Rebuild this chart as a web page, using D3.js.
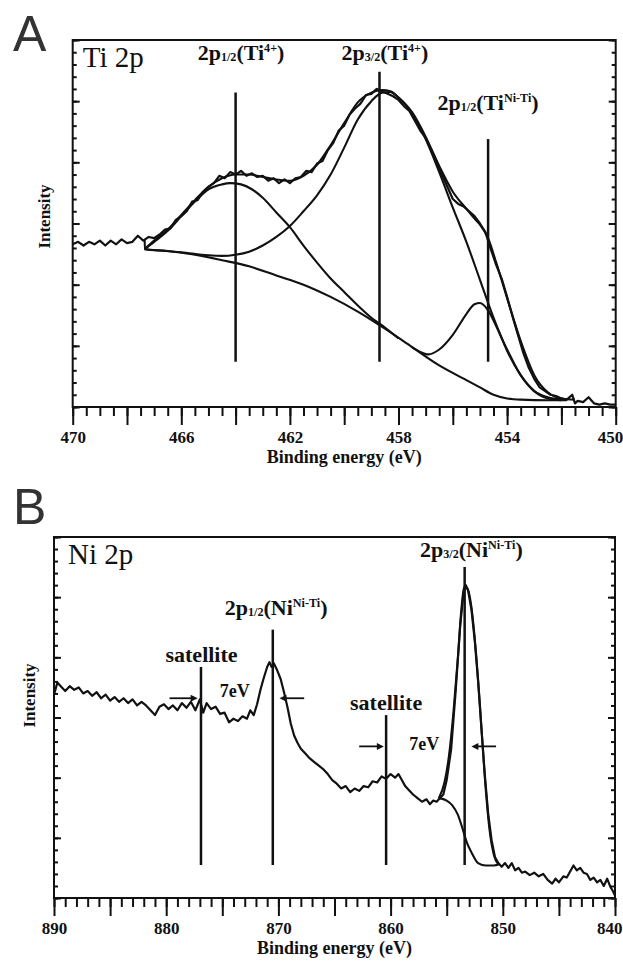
<!DOCTYPE html>
<html><head><meta charset="utf-8">
<script src="https://cdn.jsdelivr.net/npm/d3@7"></script>
<style>
html,body{margin:0;padding:0;background:#fff;}
svg{display:block;}
text{font-family:"Liberation Serif","Times New Roman",serif;fill:#111;}
</style></head><body>
<svg id="fig" width="623" height="961"></svg>
<script>
// ---------- Ti 2p (panel A): binding energy (eV), intensity (arb. units) ----------
const tiRaw = [
 [470.0,13.3],[469.8,13.5],[469.6,13.2],[469.4,13.5],[469.2,13.3],[469.0,13.6],[468.8,13.2],[468.6,13.6],
 [468.4,13.3],[468.2,13.7],[468.0,13.4],[467.8,13.5],[467.6,14.0],[467.4,13.6],[467.2,13.9],[467.0,13.8],
 [466.8,14.1],[466.6,14.5],[466.4,14.6],[466.2,15.3],[466.0,15.6],[465.8,16.0],[465.6,16.8],[465.4,16.9],
 [465.2,17.6],[465.0,18.0],[464.8,18.3],[464.6,18.9],[464.4,18.7],[464.2,19.2],[464.0,19.0],[463.8,19.3],
 [463.6,18.9],[463.4,19.1],[463.2,18.8],[463.0,18.9],[462.8,18.5],[462.6,18.7],[462.4,18.3],[462.2,18.6],
 [462.0,18.3],[461.8,18.7],[461.6,18.8],[461.4,19.3],[461.2,19.2],[461.0,19.9],[460.8,20.1],[460.6,21.0],
 [460.4,21.6],[460.2,22.6],[460.0,23.0],[459.8,23.9],[459.6,24.4],[459.4,24.8],[459.2,25.5],[459.0,25.6],
 [458.8,26.0],[458.6,25.8],[458.4,25.6],[458.2,25.4],[458.0,25.1],[457.8,24.6],[457.6,24.2],[457.4,23.4],
 [457.2,22.6],[457.0,22.0],[456.8,21.0],[456.6,20.1],[456.4,19.0],[456.2,18.0],[456.0,17.0],[455.8,16.6],
 [455.6,16.4],[455.4,16.0],[455.2,15.6],[455.0,15.0],[454.8,14.3],[454.6,12.9],[454.4,11.6],[454.2,10.5],
 [454.0,9.0],[453.8,7.4],[453.6,5.9],[453.4,4.4],[453.2,3.2],[453.0,2.3],[452.8,1.6],[452.6,1.3],
 [452.4,1.0],[452.2,0.9],[452.0,0.7],[451.8,0.6],[451.6,1.0],[451.5,0.3],[451.4,0.5],[451.2,0.4],
 [451.0,0.8],[450.8,0.3],[450.6,0.2],[450.4,0.3],[450.2,0.2],[450.0,0.2]
];
const tiEnvelope = [
 [467.35,12.9],[467.0,13.6],[466.5,14.5],[466.0,15.7],[465.5,16.9],[465.0,18.0],[464.5,18.7],[464.0,19.0],
 [463.5,19.0],[463.0,18.8],[462.5,18.6],[462.0,18.5],[461.5,18.9],[461.0,19.8],[460.5,21.4],[460.0,23.2],
 [459.5,24.9],[459.0,25.7],[458.6,25.9],[458.3,25.8],[458.0,25.3],[457.5,24.1],[457.0,22.1],[456.5,19.7],
 [456.0,17.6],[455.5,16.2],[455.2,15.4],[455.0,14.9],[454.7,13.8],[454.4,11.8],[454.0,8.9],[453.5,5.4],
 [453.0,2.6],[452.5,1.2],[452.0,0.7],[451.5,0.6]
];
const tiBackground = [
 [467.35,13.7],[467.34,12.9],[466.5,12.75],[465.5,12.45],[464.5,12.0],[463.5,11.5],[462.5,10.75],[461.5,10.0],
 [460.5,9.0],[459.5,7.8],[458.5,6.4],[457.5,4.9],[456.5,3.4],[455.5,2.2],[455.0,1.6],[454.5,1.0],
 [454.0,0.7],[453.5,0.6],[452.5,0.55],[451.8,0.55]
];
const tiPeak12 = [ // 2p1/2 (Ti4+) component on background
 [467.35,12.9],[467.0,13.5],[466.5,14.4],[466.0,15.6],[465.5,16.8],[465.0,17.8],[464.5,18.2],[464.2,18.3],
 [463.8,18.2],[463.4,17.8],[463.0,17.1],[462.5,15.9],[462.0,14.7],[461.5,13.2],[461.0,11.8],[460.5,10.5],
 [460.0,9.4],[459.5,8.3],[459.0,7.3],[458.5,6.5],[458.0,5.6]
];
const tiPeak32 = [ // 2p3/2 (Ti4+) component on background
 [467.35,12.9],[466.0,12.65],[465.0,12.4],[464.5,12.35],[464.0,12.45],[463.5,12.7],[463.0,13.2],[462.5,13.9],
 [462.0,14.8],[461.5,16.0],[461.0,17.3],[460.5,19.0],[460.0,21.2],[459.5,23.5],[459.0,25.0],[458.6,25.7],
 [458.3,25.75],[458.0,25.3],[457.5,24.0],[457.0,21.9],[456.5,19.2],[456.0,16.3],[455.5,13.5],[455.0,10.4],
 [454.5,7.3],[454.0,4.6],[453.5,2.6],[453.0,1.3],[452.5,0.8],[452.0,0.6]
];
const tiPeakMetal = [ // 2p (Ti in Ni-Ti) component on background
 [457.5,4.9],[457.2,4.5],[456.9,4.3],[456.5,4.7],[456.0,5.9],[455.5,7.6],[455.2,8.4],[455.0,8.5],
 [454.7,7.9],[454.4,6.6],[454.0,4.7],[453.5,2.6],[453.0,1.3],[452.5,0.7],[452.0,0.55]
];
const tiTickLabels = [470, 466, 462, 458, 454, 450];
// peak positions with the vertical extent of each marker line (intensity units)
const tiPeakLines = [
 {ev: 464.0, top: 25.7, bottom: 3.7},
 {ev: 458.7, top: 27.4, bottom: 3.7},
 {ev: 454.7, top: 21.9, bottom: 3.7}
];
const tiPeakNames = [
 {ev: 463.8, at: 28.4, parts: [["2p"],["1/2","sub"],["(Ti"],["4+","sup"],[")"]]},
 {ev: 458.5, at: 28.4, parts: [["2p"],["3/2","sub"],["(Ti"],["4+","sup"],[")"]]},
 {ev: 454.7, at: 24.3, parts: [["2p"],["1/2","sub"],["(Ti"],["Ni-Ti","sup"],[")"]]}
];

// ---------- Ni 2p (panel B) ----------
const niRaw = [
 [890.0,16.9],[889.7,17.9],[889.4,17.6],[889.0,17.2],[888.6,17.6],[888.2,17.3],[887.8,17.5],[887.4,17.0],
 [887.0,17.2],[886.6,16.8],[886.2,17.1],[885.8,16.6],[885.4,16.9],[885.0,16.4],[884.6,16.7],[884.2,16.3],
 [883.8,16.6],[883.4,16.2],[883.0,16.5],[882.6,16.0],[882.2,16.3],[881.8,16.0],[881.4,15.6],[881.0,15.2],
 [880.6,15.9],[880.2,16.1],[879.8,15.7],[879.4,16.0],[879.0,15.6],[878.6,16.2],[878.2,15.8],[877.8,16.3],
 [877.4,15.6],[877.0,16.5],[876.7,15.4],[876.4,16.2],[876.0,15.7],[875.6,15.9],[875.2,15.3],[874.8,15.4],
 [874.4,14.6],[874.0,14.9],[873.6,14.7],[873.2,15.1],[872.8,14.9],[872.5,15.6],[872.2,15.2],[871.9,16.1],
 [871.6,17.3],[871.3,18.3],[871.0,19.2],[870.8,19.6],[870.6,19.2],[870.4,19.5],[870.1,18.9],[869.8,18.2],
 [869.5,17.1],[869.2,15.9],[868.9,14.5],[868.6,13.5],[868.3,12.9],[868.0,12.4],[867.6,12.0],[867.2,11.6],
 [866.8,11.3],[866.4,11.0],[866.0,10.7],[865.6,10.3],[865.2,9.8],[864.8,9.5],[864.4,9.1],[864.0,9.3],
 [863.6,8.8],[863.2,9.1],[862.8,8.9],[862.4,9.3],[862.0,9.2],[861.6,9.7],[861.2,9.6],[860.8,10.1],
 [860.4,9.9],[860.0,10.3],[859.6,10.0],[859.3,10.3],[859.0,9.8],[858.7,9.3],[858.4,9.0],[858.0,8.6],
 [857.6,8.3],[857.2,8.0],[856.8,8.2],[856.5,7.8],[856.2,8.1],[855.9,8.0],[855.6,8.3],[855.3,8.6],
 [855.0,9.8],[854.6,12.4],[854.2,17.2],[853.8,22.6],[853.5,25.4],[853.3,26.0],[853.1,25.6],[852.8,24.0],
 [852.5,21.4],[852.2,18.0],[851.9,14.0],[851.6,10.2],[851.3,7.0],[851.0,4.8],[850.7,3.4],[850.4,2.9],
 [850.1,2.6],[849.8,2.9],[849.5,2.5],[849.2,2.9],[848.9,2.3],[848.6,2.5],[848.3,2.1],[848.0,2.2],
 [847.6,1.9],[847.2,2.1],[846.8,1.8],[846.4,2.0],[846.0,1.5],[845.6,1.2],[845.3,1.6],[845.0,1.3],
 [844.6,1.8],[844.3,1.7],[844.0,2.2],[843.7,2.7],[843.4,2.3],[843.1,2.5],[842.8,2.1],[842.5,2.0],
 [842.2,1.5],[841.9,1.7],[841.6,1.3],[841.3,1.5],[841.0,1.0],[840.7,1.6],[840.4,0.9],[840.2,0.6],[840.0,0.2]
];
const niFit = [
 [855.7,8.3],[855.2,9.6],[854.8,11.8],[854.4,15.4],[854.0,20.0],[853.7,23.9],[853.4,25.9],[853.1,25.6],
 [852.8,24.2],[852.4,20.5],[852.0,15.5],[851.6,10.0],[851.2,5.8],[850.8,3.6],[850.4,2.8]
];
const niBackground = [
 [855.7,8.3],[855.0,8.1],[854.5,7.7],[854.0,6.9],[853.6,5.8],[853.2,4.6],[852.8,3.8],[852.2,2.9],
 [851.5,2.7],[850.8,2.7],[850.3,2.8]
];
const niTickLabels = [890, 880, 870, 860, 850, 840];
const niPeakLines = [
 {ev: 876.9, top: 19.2, bottom: 2.74},
 {ev: 870.5, top: 22.3, bottom: 2.74},
 {ev: 860.4, top: 15.2, bottom: 2.74},
 {ev: 853.4, top: 27.5, bottom: 2.74}
];
const niPeakNames = [
 {ev: 852.8, at: 28.3, parts: [["2p"],["3/2","sub"],["(Ni"],["Ni-Ti","sup"],[")"]]},
 {ev: 870.2, at: 23.5, parts: [["2p"],["1/2","sub"],["(Ni"],["Ni-Ti","sup"],[")"]]},
 {ev: 876.85, at: 19.6, parts: [["satellite"]]},
 {ev: 860.4, at: 15.6, parts: [["satellite"]]}
];
const niSplitNotes = [
 {ev: 873.9, at: 16.7, text: "7eV"},
 {ev: 857.0, at: 12.3, text: "7eV"}
];
// satellite offset arrows: start and end energies at a given intensity
const niArrows = [
 {from: 879.7, to: 877.2, at: 16.6},
 {from: 867.7, to: 869.9, at: 16.6},
 {from: 862.8, to: 860.6, at: 12.6},
 {from: 850.6, to: 852.8, at: 12.6}
];

const svg = d3.select("#fig");
const ink = "#111";
const serif = '"Liberation Serif","Times New Roman",serif';

function richText(g, x, y, parts, size) {
  const t = g.append("text").attr("x", x).attr("y", y)
    .attr("text-anchor", "middle").attr("font-weight", "bold")
    .attr("font-size", size).style("font-family", serif);
  let shift = 0;
  parts.forEach(([s, kind]) => {
    const sp = t.append("tspan").text(s);
    let target = 0;
    if (kind === "sub") { sp.attr("font-size", size * 0.55); target = 1; }
    else if (kind === "sup") { sp.attr("font-size", size * 0.55); target = -8; }
    sp.attr("dy", target - shift);
    shift = target;
  });
  return t;
}

function drawPanel(o) {
  const g = svg.append("g");
  const x = d3.scaleLinear().domain(o.xDomain).range([o.left, o.right]);
  const y = d3.scaleLinear().domain([0, 30]).range([o.bottom, o.top]);

  // bottom axis: minor and major outward ticks, labels on selected ticks
  const minor = g.append("g").attr("transform", `translate(0,${o.bottom})`)
    .call(d3.axisBottom(x).tickValues(o.minorTicks).tickSize(9).tickFormat(""));
  const major = g.append("g").attr("transform", `translate(0,${o.bottom})`)
    .call(d3.axisBottom(x).tickValues(o.majorTicks).tickSize(18).tickPadding(6)
      .tickFormat(d => o.labels.some(l => Math.abs(l - d) < 1e-6) ? d : ""));
  // inward ticks on left and right frame edges
  const yMinor = d3.range(0, 31, 1), yMajor = d3.range(0, 31, 5);
  const l1 = g.append("g").attr("transform", `translate(${o.left},0)`)
    .call(d3.axisRight(y).tickValues(yMinor).tickSize(4).tickFormat(""));
  const l2 = g.append("g").attr("transform", `translate(${o.left},0)`)
    .call(d3.axisRight(y).tickValues(yMajor).tickSize(7).tickFormat(""));
  const r1 = g.append("g").attr("transform", `translate(${o.right},0)`)
    .call(d3.axisLeft(y).tickValues(yMinor).tickSize(4).tickFormat(""));
  const r2 = g.append("g").attr("transform", `translate(${o.right},0)`)
    .call(d3.axisLeft(y).tickValues(yMajor).tickSize(7).tickFormat(""));
  [minor, major, l1, l2, r1, r2].forEach(a => {
    a.select(".domain").remove();
    a.selectAll("line").attr("stroke", ink).attr("stroke-width", 2);
  });
  major.selectAll("text")
    .style("font-family", serif)
    .attr("font-size", 17).attr("font-weight", "bold").attr("fill", ink);
  // the last label sits flush with the right edge of the figure
  major.selectAll(".tick").filter(d => Math.abs(d - o.xDomain[1]) < 1e-6)
    .select("text").attr("text-anchor", "end").attr("x", 7);

  // frame
  g.append("rect").attr("x", o.left).attr("y", o.top)
    .attr("width", o.right - o.left).attr("height", o.bottom - o.top)
    .attr("fill", "none").attr("stroke", ink).attr("stroke-width", 2);

  // axis titles
  g.append("text").attr("x", (o.left + o.right) / 2).attr("y", o.bottom + 56)
    .attr("text-anchor", "middle").attr("font-weight", "bold").attr("font-size", 18)
    .style("font-family", serif).text("Binding energy (eV)");
  g.append("text").attr("transform", `translate(${o.yTitleX},${(o.top + o.bottom) / 2 + o.yTitleDy}) rotate(-90)`)
    .attr("text-anchor", "middle").attr("font-weight", "bold").attr("font-size", 17)
    .style("font-family", serif).text("Intensity");

  // panel letter and element tag
  g.append("text").attr("x", 13).attr("y", o.letterY)
    .style("font-family", '"Liberation Sans",Arial,sans-serif')
    .attr("font-size", 50).style("fill", "#333").text(o.letter);
  g.append("text").attr("x", o.left + o.tagDx).attr("y", o.top + 27)
    .style("font-family", serif).attr("font-size", 29).text(o.tag);

  // spectra
  const lin = d3.line().x(d => x(d[0])).y(d => y(d[1]));
  const smooth = d3.line().x(d => x(d[0])).y(d => y(d[1])).curve(d3.curveMonotoneX);
  o.smoothSeries.forEach(s => g.append("path").attr("d", smooth(s))
    .attr("fill", "none").attr("stroke", ink).attr("stroke-width", 2.1).attr("stroke-linejoin", "round"));
  g.append("path").attr("d", lin(o.raw))
    .attr("fill", "none").attr("stroke", ink).attr("stroke-width", 2.2).attr("stroke-linejoin", "round");

  // peak marker lines
  o.peakLines.forEach(p => g.append("line")
    .attr("x1", x(p.ev)).attr("x2", x(p.ev)).attr("y1", y(p.top)).attr("y2", y(p.bottom))
    .attr("stroke", ink).attr("stroke-width", 2.5));

  o.names.forEach(n => richText(g, x(n.ev), y(n.at), n.parts, 22));
  return {g, x, y};
}

drawPanel({
  letter: "A", letterY: 51, tag: "Ti 2p", tagDx: 10,
  xDomain: [470, 450], left: 72.7, right: 615.7, top: 40, bottom: 407,
  minorTicks: d3.range(450, 470.001, 0.5), majorTicks: d3.range(450, 470.001, 2),
  labels: tiTickLabels, yTitleX: 50, yTitleDy: -7,
  raw: tiRaw, smoothSeries: [tiBackground, tiPeak12, tiPeak32, tiPeakMetal, tiEnvelope],
  peakLines: tiPeakLines, names: tiPeakNames
});

const pb = drawPanel({
  letter: "B", letterY: 524, tag: "Ni 2p", tagDx: 14,
  xDomain: [890, 840], left: 54, right: 615, top: 537, bottom: 898,
  minorTicks: d3.range(840, 890.001, 1), majorTicks: d3.range(840, 890.001, 5),
  labels: niTickLabels, yTitleX: 35, yTitleDy: -22,
  raw: niRaw, smoothSeries: [niBackground, niFit],
  peakLines: niPeakLines, names: niPeakNames
});

niSplitNotes.forEach(n => pb.g.append("text").attr("x", pb.x(n.ev)).attr("y", pb.y(n.at))
  .attr("text-anchor", "middle").attr("font-weight", "bold").attr("font-size", 18)
  .style("font-family", serif).text(n.text));

niArrows.forEach(a => {
  const x0 = pb.x(a.from), x1 = pb.x(a.to), yy = pb.y(a.at);
  const dir = Math.sign(x1 - x0);
  pb.g.append("line").attr("x1", x0).attr("x2", x1 - dir * 4).attr("y1", yy).attr("y2", yy)
    .attr("stroke", ink).attr("stroke-width", 1.8);
  pb.g.append("path")
    .attr("d", `M${x1},${yy} L${x1 - dir * 7},${yy - 3.5} L${x1 - dir * 7},${yy + 3.5} Z`)
    .attr("fill", ink);
});
</script>
</body></html>
